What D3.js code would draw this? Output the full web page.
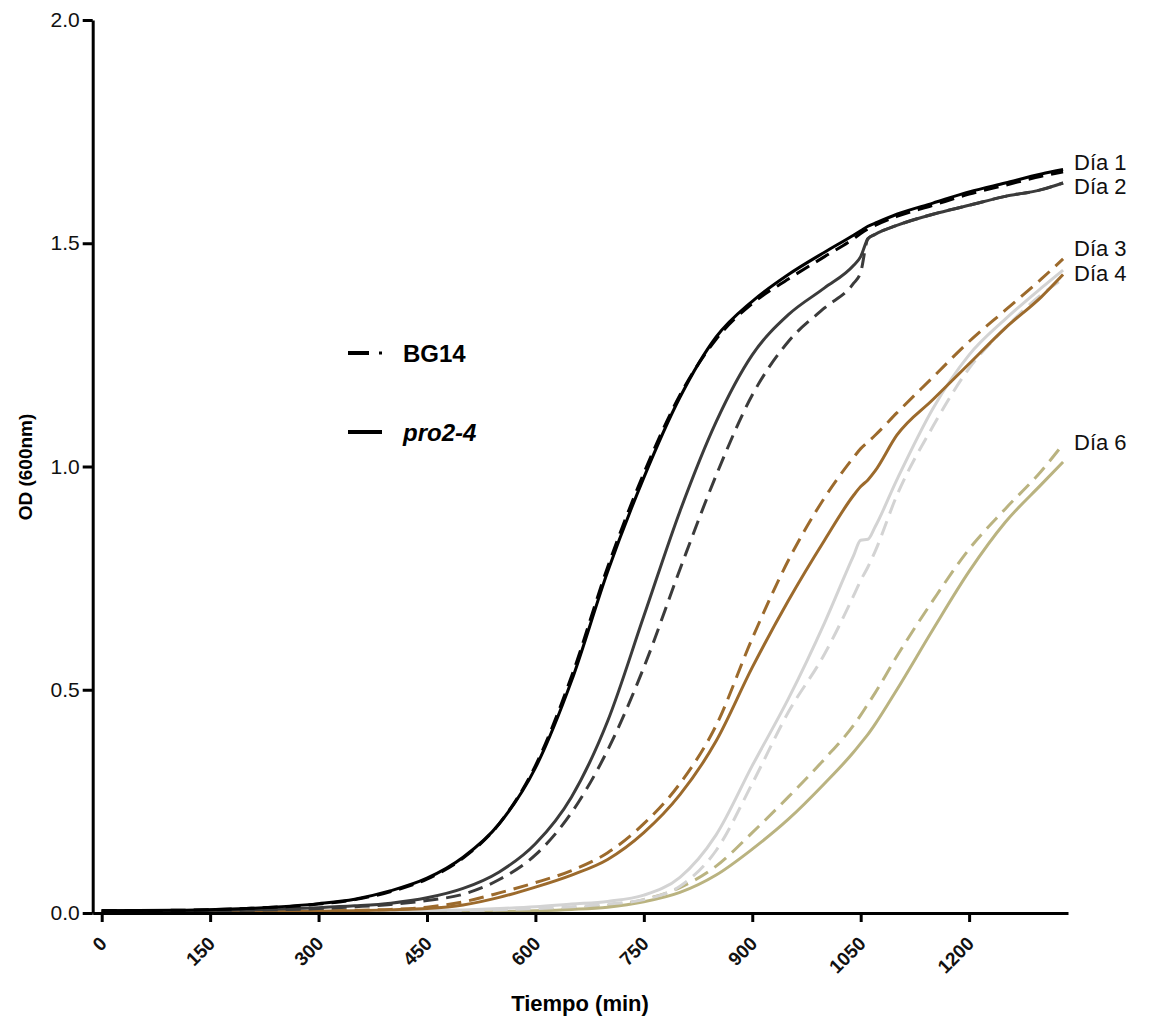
<!DOCTYPE html>
<html>
<head>
<meta charset="utf-8">
<script src="https://cdn.jsdelivr.net/npm/d3@7"></script>
<style>
body { margin: 0; background: #fff; }
text { font-family: "Liberation Sans", Arial, sans-serif; }
</style>
</head>
<body>
<div id="viz"></div>
<script>

// time (min) of each reading
var times = [0, 100, 200, 300, 350, 400, 450, 500, 550, 600, 650, 700, 750, 800, 850, 900, 950, 1000, 1040, 1050, 1060, 1070, 1100, 1150, 1200, 1250, 1300, 1330];

// OD 600nm, one array per day and strain
var dia1_bg14 = [0.005, 0.006, 0.010, 0.020, 0.030, 0.048, 0.076, 0.123, 0.20, 0.33, 0.53, 0.775, 0.985, 1.16, 1.285, 1.365, 1.42, 1.47, 1.51, 1.522, 1.532, 1.54, 1.56, 1.585, 1.61, 1.63, 1.65, 1.66];
var dia1_pro = [0.005, 0.006, 0.010, 0.021, 0.031, 0.050, 0.078, 0.125, 0.20, 0.325, 0.52, 0.765, 0.975, 1.155, 1.29, 1.37, 1.43, 1.48, 1.518, 1.528, 1.538, 1.545, 1.565, 1.59, 1.615, 1.635, 1.655, 1.665];
var dia2_bg14 = [0.005, 0.005, 0.006, 0.010, 0.014, 0.019, 0.028, 0.042, 0.075, 0.13, 0.225, 0.365, 0.55, 0.77, 0.98, 1.16, 1.28, 1.355, 1.41, 1.435, 1.51, 1.52, 1.54, 1.565, 1.585, 1.605, 1.62, 1.635];
var dia2_pro = [0.005, 0.005, 0.007, 0.012, 0.016, 0.022, 0.034, 0.055, 0.092, 0.155, 0.26, 0.43, 0.665, 0.90, 1.10, 1.25, 1.34, 1.40, 1.45, 1.47, 1.51, 1.52, 1.54, 1.565, 1.585, 1.605, 1.62, 1.635];
var dia3_bg14 = [0.004, 0.004, 0.004, 0.005, 0.006, 0.008, 0.013, 0.025, 0.045, 0.068, 0.095, 0.135, 0.20, 0.29, 0.42, 0.615, 0.79, 0.93, 1.02, 1.04, 1.055, 1.07, 1.12, 1.20, 1.28, 1.35, 1.42, 1.465];
var dia3_pro = [0.003, 0.003, 0.003, 0.004, 0.005, 0.007, 0.010, 0.018, 0.035, 0.058, 0.085, 0.12, 0.18, 0.265, 0.385, 0.55, 0.70, 0.835, 0.935, 0.955, 0.97, 0.99, 1.07, 1.15, 1.23, 1.31, 1.38, 1.43];
var dia4_bg14 = [0.003, 0.003, 0.003, 0.003, 0.003, 0.003, 0.004, 0.005, 0.007, 0.010, 0.014, 0.020, 0.030, 0.06, 0.14, 0.29, 0.45, 0.58, 0.71, 0.745, 0.775, 0.81, 0.935, 1.09, 1.22, 1.31, 1.385, 1.42];
var dia4_pro = [0.003, 0.003, 0.003, 0.003, 0.003, 0.004, 0.005, 0.007, 0.010, 0.014, 0.020, 0.026, 0.040, 0.08, 0.175, 0.33, 0.48, 0.65, 0.80, 0.835, 0.837, 0.865, 0.97, 1.13, 1.25, 1.33, 1.40, 1.44];
var dia6_bg14 = [0.003, 0.003, 0.003, 0.003, 0.003, 0.003, 0.003, 0.003, 0.004, 0.006, 0.010, 0.017, 0.030, 0.057, 0.105, 0.18, 0.26, 0.345, 0.42, 0.443, 0.468, 0.493, 0.575, 0.70, 0.815, 0.905, 0.99, 1.05];
var dia6_pro = [0.002, 0.002, 0.002, 0.002, 0.002, 0.002, 0.002, 0.002, 0.003, 0.005, 0.008, 0.013, 0.025, 0.046, 0.085, 0.143, 0.21, 0.29, 0.36, 0.38, 0.40, 0.423, 0.50, 0.635, 0.765, 0.875, 0.96, 1.01];

var days = ["Día 1", "Día 2", "Día 3", "Día 4", "Día 6"];
var labelOD = [1.682, 1.627, 1.489, 1.433, 1.055];

var xTicks = [0, 150, 300, 450, 600, 750, 900, 1050, 1200];
var yTicks = [0, 0.5, 1.0, 1.5, 2.0];

var dayColors = ["#000000", "#3b3b3b", "#9c6a2c", "#d3d3d3", "#bab380"];

var series = [
    {day: 0, dash: true, values: dia1_bg14},
    {day: 0, dash: false, values: dia1_pro},
    {day: 1, dash: true, values: dia2_bg14},
    {day: 1, dash: false, values: dia2_pro},
    {day: 2, dash: true, values: dia3_bg14},
    {day: 2, dash: false, values: dia3_pro},
    {day: 3, dash: true, values: dia4_bg14},
    {day: 3, dash: false, values: dia4_pro},
    {day: 4, dash: true, values: dia6_bg14},
    {day: 4, dash: false, values: dia6_pro}
];

var svg = d3.select("#viz")
        .append("svg")
        .attr("width", 1151)
        .attr("height", 1019);

svg.append("rect").attr("width", 1151).attr("height", 1019).style("fill", "white");

var x = d3.scaleLinear().domain([-12.45, 1336.8]).range([92.7, 1068]);
var y = d3.scaleLinear().domain([0, 2]).range([913, 20]);

var line = d3.line()
        .x(function(d) { return x(d[0]); })
        .y(function(d) { return y(d[1]); })
        .curve(d3.curveMonotoneX);

// lighter days first so the dark ones sit on top
var order = series.slice().reverse();
svg.append("g")
    .selectAll("path")
    .data(order)
    .enter()
    .append("path")
    .attr("d", function(s) { return line(times.map(function(t, i) { return [t, s.values[i]]; })); })
    .style("fill", "none")
    .style("stroke", function(s) { return dayColors[s.day]; })
    .style("stroke-width", 3)
    .style("stroke-dasharray", function(s) { return s.dash ? "15,8" : null; });

// axes
var yAxis = svg.append("g")
    .attr("transform", "translate(92.7,0)")
    .call(d3.axisLeft(y).tickValues(yTicks).tickFormat(d3.format(".1f")).tickSize(10).tickSizeOuter(0));

var xAxis = svg.append("g")
    .attr("transform", "translate(0,913)")
    .call(d3.axisBottom(x).tickValues(xTicks).tickFormat(d3.format("d")).tickSize(9).tickSizeOuter(0));

[xAxis, yAxis].forEach(function(a) {
    a.select(".domain").style("stroke", "#000").style("stroke-width", 3);
    a.selectAll(".tick line").style("stroke", "#000").style("stroke-width", 3);
});

yAxis.selectAll(".tick text")
    .attr("x", -13)
    .style("font-size", "21px")
    .style("fill", "#111")
    .style("font-family", "'Liberation Sans', Arial, sans-serif");

xAxis.selectAll(".tick text")
    .attr("y", 0)
    .attr("x", 0)
    .attr("dy", "0.35em")
    .attr("transform", "translate(1,27) rotate(-45)")
    .style("text-anchor", "end")
    .style("font-size", "19px")
    .style("font-weight", "bold")
    .style("fill", "#111")
    .style("font-family", "'Liberation Sans', Arial, sans-serif");

// axis titles
svg.append("text")
    .attr("x", 580)
    .attr("y", 1011)
    .attr("text-anchor", "middle")
    .style("font-size", "22px")
    .style("font-weight", "bold")
    .text("Tiempo (min)");

svg.append("text")
    .attr("transform", "translate(32,467) rotate(-90)")
    .attr("text-anchor", "middle")
    .style("font-size", "19px")
    .style("font-weight", "bold")
    .text("OD (600nm)");

// day labels at the end of the curves
svg.selectAll(".daylabel")
    .data(days)
    .enter()
    .append("text")
    .attr("class", "daylabel")
    .attr("x", 1074)
    .attr("y", function(d, i) { return y(labelOD[i]); })
    .attr("dy", "0.36em")
    .style("font-size", "22px")
    .style("fill", "#111")
    .text(function(d) { return d; });

// legend
svg.append("line")
    .attr("x1", 348).attr("x2", 369).attr("y1", 353).attr("y2", 353)
    .style("stroke", "#000").style("stroke-width", 4);
svg.append("rect")
    .attr("x", 379).attr("y", 351.5).attr("width", 3).attr("height", 3)
    .style("fill", "#000");
svg.append("text")
    .attr("x", 403).attr("y", 362)
    .style("font-size", "24px").style("font-weight", "bold")
    .text("BG14");

svg.append("line")
    .attr("x1", 348).attr("x2", 382).attr("y1", 432).attr("y2", 432)
    .style("stroke", "#000").style("stroke-width", 4);
svg.append("text")
    .attr("x", 403).attr("y", 441)
    .style("font-size", "24px").style("font-weight", "bold").style("font-style", "italic")
    .text("pro2-4");

</script>
</body>
</html>
